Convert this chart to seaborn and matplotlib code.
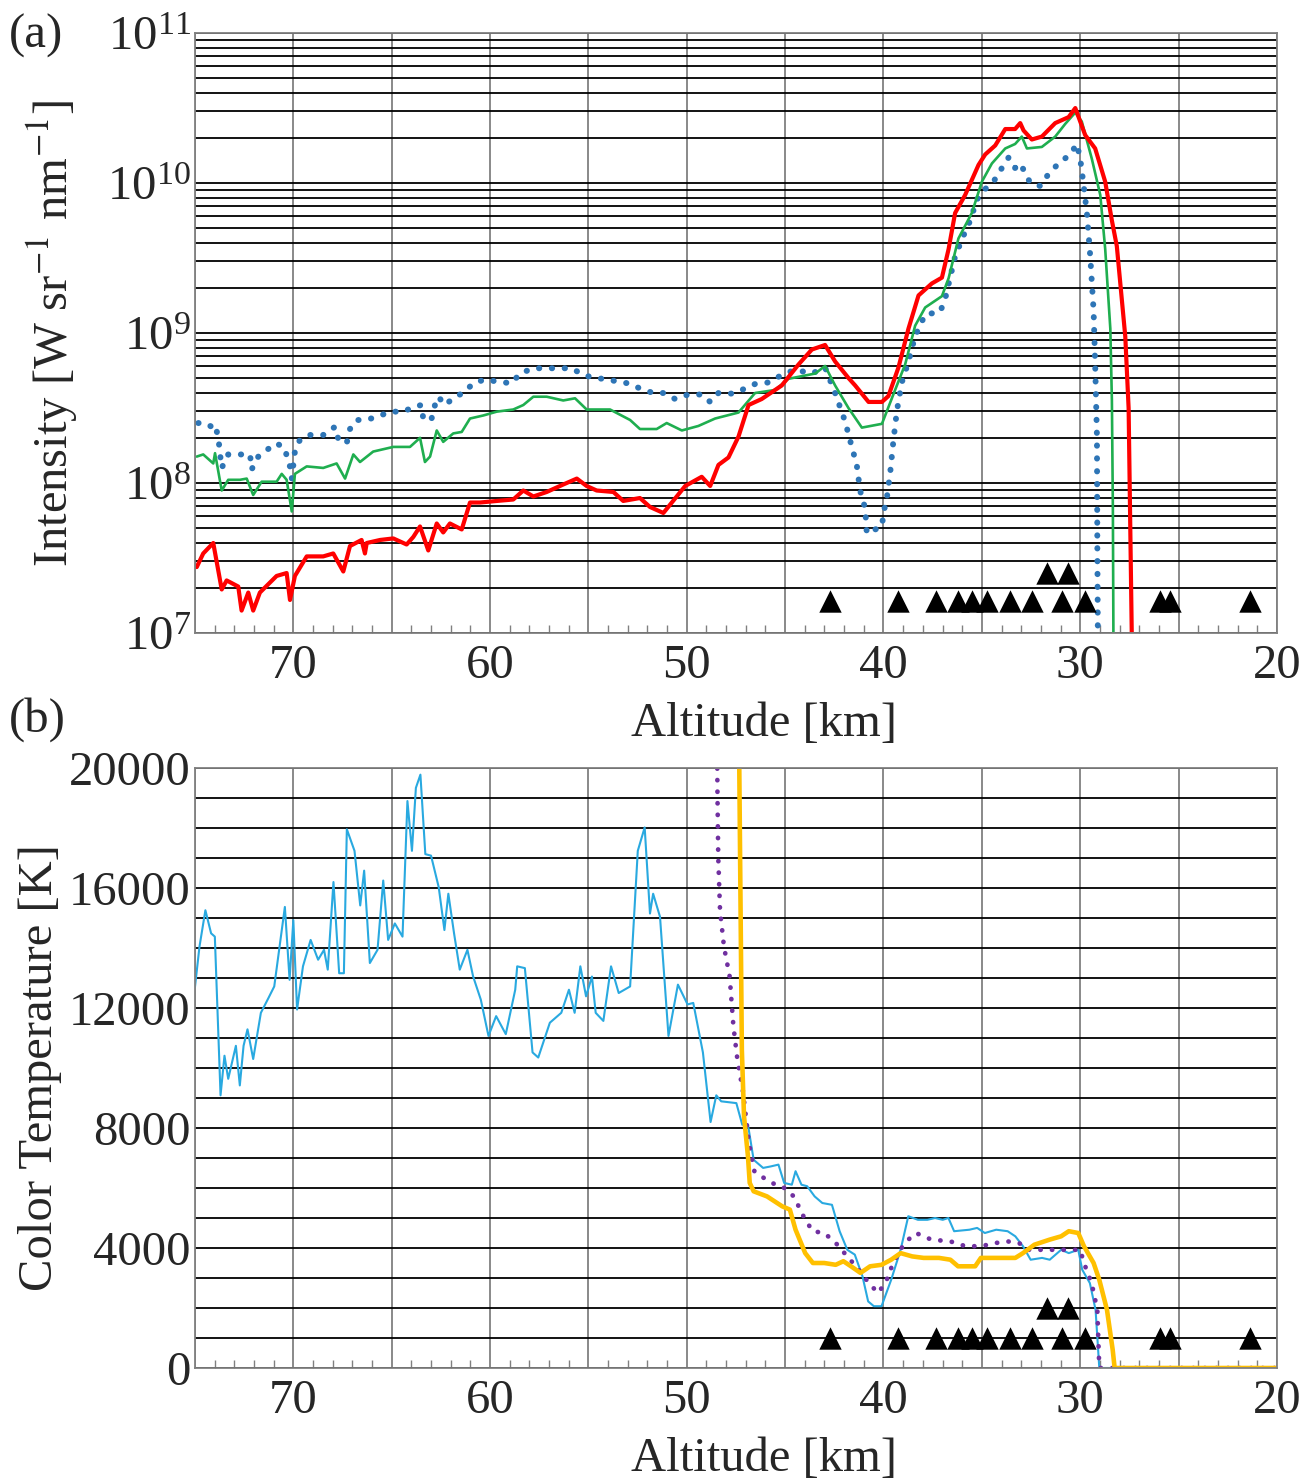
import matplotlib
matplotlib.use('Agg')
import matplotlib.pyplot as plt
from matplotlib.ticker import MultipleLocator, LogLocator, NullFormatter, FuncFormatter
import seaborn as sns

# ---- (a) spectral intensity [W sr-1 nm-1] vs altitude [km] ----
red_alt = [74.91, 74.58, 74.07, 73.64, 73.39, 72.80, 72.63, 72.29, 72.04, 71.70, 70.85, 70.34, 70.17, 69.92,
           69.32, 68.48, 67.97, 67.46, 67.12, 66.53, 66.36, 66.27, 65.59, 64.92, 64.24, 63.90, 63.56, 63.14,
           62.71, 62.38, 62.04, 61.44, 61.02, 60.51, 59.66, 58.82, 58.31, 57.80, 57.12, 56.28, 55.59, 55.09,
           54.58, 53.73, 53.23, 52.38, 51.87, 51.19, 50.08, 49.24, 48.81, 48.39, 47.88, 47.37, 46.86, 46.19,
           45.17, 44.32, 43.64, 42.97, 42.46, 41.78, 41.44, 40.76, 40.08, 39.75, 39.24, 38.73, 38.22, 37.54,
           37.03, 36.69, 36.36, 35.85, 35.17, 34.83, 34.32, 33.81, 33.31, 33.05, 32.88, 32.46, 31.95, 31.27,
           30.59, 30.25, 29.75, 29.24, 28.73, 28.39, 28.14, 27.71, 27.54, 27.37]
red_int = [2.75e7, 3.39e7, 3.98e7, 1.95e7, 2.24e7, 2.04e7, 1.41e7, 1.86e7, 1.41e7, 1.86e7, 2.40e7, 2.51e7, 1.66e7, 2.40e7,
           3.24e7, 3.24e7, 3.39e7, 2.57e7, 3.80e7, 4.17e7, 3.39e7, 3.98e7, 4.17e7, 4.27e7, 3.89e7, 4.37e7, 5.13e7, 3.55e7,
           5.37e7, 4.68e7, 5.37e7, 4.90e7, 7.41e7, 7.41e7, 7.59e7, 7.76e7, 8.91e7, 8.13e7, 8.71e7, 9.77e7, 1.07e8, 9.55e7,
           8.91e7, 8.71e7, 7.59e7, 7.94e7, 6.92e7, 6.31e7, 9.55e7, 1.10e8, 9.55e7, 1.32e8, 1.48e8, 2.04e8, 3.31e8, 3.63e8,
           4.47e8, 6.17e8, 7.76e8, 8.32e8, 6.46e8, 5.01e8, 4.47e8, 3.47e8, 3.47e8, 3.80e8, 5.89e8, 1.07e9, 1.78e9, 2.14e9,
           2.34e9, 3.63e9, 6.31e9, 8.32e9, 1.32e10, 1.55e10, 1.78e10, 2.29e10, 2.29e10, 2.51e10, 2.24e10, 1.95e10, 2.04e10, 2.51e10,
           2.75e10, 3.16e10, 2.09e10, 1.70e10, 1.02e10, 5.62e9, 3.80e9, 9.5e8, 3.16e8, 7.94e6]

green_alt = [74.91, 74.58, 74.07, 73.98, 73.64, 73.31, 72.71, 72.37, 72.04, 71.61, 70.85, 70.59, 70.34, 70.08,
             69.92, 69.32, 68.48, 67.80, 67.37, 66.95, 66.61, 65.94, 64.92, 64.07, 63.56, 63.31, 63.05, 62.71,
             62.38, 61.87, 61.44, 61.02, 60.34, 59.66, 58.82, 58.31, 57.80, 57.12, 56.28, 55.68, 55.09, 53.90,
             52.88, 52.38, 51.53, 51.02, 50.25, 49.41, 48.56, 47.37, 46.53, 45.51, 44.83, 43.47, 42.97, 42.46,
             41.78, 41.10, 40.08, 39.41, 38.90, 38.39, 37.88, 37.03, 36.69, 36.19, 35.51, 35.00, 34.49, 33.81,
             33.31, 32.97, 32.71, 31.95, 31.27, 30.76, 30.25, 29.92, 29.41, 28.98, 28.73, 28.47, 28.39, 28.34, 28.31]
green_int = [1.50e8, 1.55e8, 1.35e8, 1.58e8, 8.91e7, 1.05e8, 1.05e8, 1.07e8, 8.32e7, 1.02e8, 1.02e8, 1.15e8, 1.05e8, 6.46e7,
             1.15e8, 1.29e8, 1.26e8, 1.35e8, 1.07e8, 1.55e8, 1.38e8, 1.62e8, 1.74e8, 1.74e8, 2.00e8, 1.38e8, 1.50e8, 2.24e8,
             1.88e8, 2.14e8, 2.19e8, 2.69e8, 2.82e8, 2.99e8, 3.09e8, 3.31e8, 3.76e8, 3.76e8, 3.55e8, 3.67e8, 3.09e8, 3.09e8,
             2.63e8, 2.29e8, 2.29e8, 2.51e8, 2.24e8, 2.40e8, 2.69e8, 2.95e8, 3.98e8, 4.17e8, 4.95e8, 5.37e8, 6.03e8, 4.47e8,
             3.16e8, 2.34e8, 2.48e8, 4.17e8, 6.17e8, 1.12e9, 1.48e9, 1.76e9, 2.32e9, 4.27e9, 6.31e9, 1.02e10, 1.35e10, 1.70e10,
             1.82e10, 2.04e10, 1.70e10, 1.74e10, 2.04e10, 2.48e10, 2.95e10, 2.57e10, 1.45e10, 8.32e9, 3.63e9, 1.07e9, 3.55e8, 6.76e7, 7.94e6]

blue_alt = [74.83, 74.49, 74.15, 73.98, 73.81, 73.73, 73.64, 73.31, 72.63, 72.20, 72.12, 71.78, 71.35, 70.85,
            70.42, 70.26, 70.17, 70.08, 69.92, 69.66, 69.15, 68.48, 67.88, 67.71, 67.29, 67.12, 66.78, 66.36,
            65.76, 65.09, 64.41, 63.82, 63.48, 63.39, 62.97, 62.80, 62.63, 62.29, 61.78, 61.36, 60.85, 60.26,
            59.58, 58.90, 58.48, 57.80, 57.21, 56.53, 55.85, 55.26, 54.67, 53.90, 53.56, 52.97, 52.29, 51.70,
            51.19, 50.59, 49.92, 49.24, 48.81, 48.39, 47.63, 47.03, 46.53, 45.85, 45.17, 44.49, 43.64, 42.97,
            42.46, 41.95, 41.61, 41.36, 41.19, 40.93, 40.85, 40.42, 40.08, 40.00, 39.83, 39.66, 39.49, 39.32,
            39.07, 38.73, 38.39, 37.88, 37.12, 36.86, 36.36, 35.93, 35.59, 35.25, 34.83, 34.41, 33.98, 33.64,
            33.31, 33.05, 32.80, 32.54, 32.03, 31.61, 31.10, 30.51, 30.17, 30.00, 29.83, 29.66, 29.49, 29.32,
            29.24, 29.15, 29.13, 29.10]
blue_int = [2.51e8, 2.51e8, 2.37e8, 2.45e8, 2.00e8, 1.58e8, 1.26e8, 1.55e8, 1.55e8, 1.55e8, 1.23e8, 1.50e8, 1.66e8, 1.84e8,
            1.70e8, 1.35e8, 1.29e8, 1.07e8, 1.62e8, 1.95e8, 2.09e8, 2.09e8, 2.37e8, 1.95e8, 1.84e8, 2.29e8, 2.63e8, 2.63e8,
            2.75e8, 2.99e8, 2.99e8, 3.24e8, 3.31e8, 2.63e8, 2.69e8, 3.31e8, 3.76e8, 3.31e8, 3.76e8, 3.98e8, 4.62e8, 4.90e8,
            4.73e8, 4.62e8, 5.37e8, 5.82e8, 5.82e8, 5.82e8, 5.82e8, 5.25e8, 5.01e8, 4.90e8, 4.73e8, 4.62e8, 4.22e8, 3.98e8,
            3.98e8, 3.63e8, 3.89e8, 3.89e8, 3.47e8, 3.98e8, 3.94e8, 4.27e8, 4.57e8, 4.68e8, 5.25e8, 5.69e8, 5.37e8, 5.89e8,
            3.98e8, 2.57e8, 1.74e8, 1.32e8, 8.91e7, 6.76e7, 4.62e7, 4.90e7, 5.13e7, 6.31e7, 7.94e7, 1.17e8, 1.95e8, 3.02e8,
            4.68e8, 6.46e8, 9.55e8, 1.33e9, 1.38e9, 1.70e9, 3.24e9, 4.47e9, 5.62e9, 7.76e9, 9.12e9, 1.02e10, 1.26e10, 1.48e10,
            1.26e10, 1.35e10, 1.17e10, 1.00e10, 9.55e9, 1.15e10, 1.35e10, 1.55e10, 1.82e10, 1.45e10, 9.77e9, 6.31e9, 3.24e9, 1.41e9,
            6.17e8, 2.04e8, 3.89e7, 7.94e6]

# ---- (b) color temperature [K] vs altitude [km] ----
cyan_alt = [75.00, 74.77, 74.47, 74.18, 73.99, 73.70, 73.50, 73.31, 72.92, 72.72, 72.53, 72.33, 72.04, 71.65,
            71.26, 70.97, 70.43, 70.19, 70.00, 69.81, 69.51, 69.12, 68.74, 68.44, 68.25, 67.96, 67.67, 67.43,
            67.28, 66.89, 66.60, 66.40, 66.11, 65.72, 65.43, 65.18, 64.84, 64.45, 64.20, 63.97, 63.77, 63.54,
            63.29, 63.00, 62.61, 62.32, 62.12, 61.83, 61.54, 61.15, 60.86, 60.47, 60.08, 59.69, 59.20, 58.72,
            58.62, 58.23, 57.84, 57.55, 56.96, 56.38, 55.99, 55.70, 55.41, 55.12, 54.82, 54.63, 54.24, 53.85,
            53.46, 52.88, 52.49, 52.14, 51.87, 51.71, 51.36, 50.93, 50.45, 49.96, 49.67, 49.18, 48.79, 48.50,
            48.25, 47.48, 47.18, 46.89, 46.60, 46.12, 45.73, 45.34, 45.05, 44.66, 44.47, 44.17, 43.88, 43.50,
            43.11, 42.62, 42.23, 41.84, 41.46, 41.07, 40.78, 40.49, 40.10, 39.61, 39.13, 38.74, 38.25, 37.77,
            37.38, 36.99, 36.70, 36.41, 35.63, 35.24, 34.85, 34.27, 33.69, 33.30, 32.91, 32.52, 31.94, 31.55,
            30.97, 30.58, 30.10, 29.90, 29.51, 29.22, 29.03, 20.00]
cyan_temp = [12700, 14050, 15260, 14490, 14380, 9090, 10410, 9640, 10740, 9420, 10740, 11290, 10300, 11840,
             12340, 12720, 15370, 12940, 14930, 11950, 13390, 14270, 13610, 13940, 13280, 16200, 13160, 13160,
             17960, 17240, 15420, 16580, 13500, 13940, 16250, 14270, 14820, 14380, 18900, 17240, 19340, 19780,
             17130, 17080, 16030, 14600, 15810, 14490, 13280, 13940, 13050, 12280, 11070, 11730, 11130, 12610,
             13390, 13330, 10520, 10350, 11510, 11840, 12610, 11840, 13390, 12390, 13050, 11840, 11570, 13390,
             12500, 12720, 17240, 18020, 15150, 15810, 15040, 11070, 12780, 12120, 12170, 10520, 8200, 9090,
             8890, 8830, 8110, 8110, 6940, 6670, 6720, 6780, 6170, 6110, 6560, 6110, 6060, 5720,
             5500, 5440, 4560, 3940, 3780, 3060, 2220, 2060, 2060, 2940, 3940, 5060, 4940, 4940,
             5000, 4940, 5000, 4560, 4610, 4670, 4500, 4610, 4560, 4390, 4060, 3610, 3670, 3610,
             3940, 3830, 3940, 3280, 2830, 1940, 0, 0]

orange_alt = [47.40, 47.20, 47.09, 46.89, 46.80, 46.60, 45.92, 45.15, 44.76, 44.47, 43.98, 43.59, 43.01, 42.43,
              42.04, 41.65, 41.17, 40.68, 40.10, 39.61, 39.13, 38.54, 37.96, 37.18, 36.60, 36.21, 35.34, 35.05,
              34.27, 33.30, 32.91, 32.33, 31.55, 30.97, 30.58, 30.10, 29.81, 29.32, 29.03, 28.64, 28.35, 28.25, 20.00]
orange_temp = [25000, 10600, 8390, 7060, 6170, 5890, 5720, 5390, 5280, 4610, 3830, 3500, 3500, 3440,
               3560, 3390, 3170, 3390, 3440, 3610, 3830, 3720, 3670, 3670, 3610, 3390, 3390, 3670,
               3670, 3670, 3830, 4110, 4280, 4390, 4560, 4500, 4060, 3500, 2940, 1940, 610, 0, 0]

purple_alt = [48.50, 48.44, 48.40, 48.31, 48.11, 47.82, 47.63, 47.43, 47.14, 46.85, 46.56, 46.07, 45.49, 45.15,
              44.56, 43.98, 43.59, 43.01, 42.43, 41.84, 41.26, 40.87, 40.29, 39.90, 39.51, 38.93, 38.35, 37.57,
              36.60, 35.83, 35.05, 34.27, 33.69, 33.11, 32.72, 31.75, 30.78, 30.00, 29.81, 29.42, 29.13, 29.03, 20.00]
purple_temp = [25000, 19120, 17020, 15260, 14050, 13050, 11400, 10300, 9200, 7540, 6550, 6330, 6110, 6060,
               5720, 4940, 4560, 4500, 4170, 3720, 3280, 2940, 2500, 2830, 3500, 4170, 4500, 4280,
               4220, 4060, 4060, 4170, 4220, 4170, 3940, 3940, 3940, 3940, 3500, 2830, 1940, 0, 0]

# ---- observation markers (triangles) ----
tri_low_alt = [42.7, 39.26, 37.33, 36.2, 35.5, 34.74, 33.57, 32.45, 30.92, 29.75, 25.94, 25.43, 21.37]
tri_high_alt = [31.7, 30.62]
tri_low_a, tri_high_a = 1.63e7, 2.5e7
tri_low_b, tri_high_b = 1000, 2000

sns.set_style('white')
plt.rcParams['font.family'] = ['Liberation Serif', 'DejaVu Serif']
plt.rcParams['mathtext.fontset'] = 'stix'

FS = 35
GRAY = '#808080'

fig = plt.figure(figsize=(13.05, 14.81), dpi=100)
ax1 = fig.add_axes([0.1494, 0.5726, 0.8291, 0.4051])
ax2 = fig.add_axes([0.1494, 0.0763, 0.8291, 0.4051])

# panel (a)
sns.lineplot(x=blue_alt, y=blue_int, ax=ax1, color='#2e75b6', lw=4.3, sort=False, estimator=None,
             linestyle=(0, (0.05, 2.1)), dash_capstyle='round')
sns.lineplot(x=green_alt, y=green_int, ax=ax1, color='#1fae4f', lw=1.9, sort=False, estimator=None)
sns.lineplot(x=red_alt, y=red_int, ax=ax1, color='#ff0000', lw=3.0, sort=False, estimator=None)
sns.scatterplot(x=tri_low_alt, y=[tri_low_a] * len(tri_low_alt), ax=ax1, marker='^', s=260,
                color='black', linewidth=0, zorder=5)
sns.scatterplot(x=tri_high_alt, y=[tri_high_a] * len(tri_high_alt), ax=ax1, marker='^', s=260,
                color='black', linewidth=0, zorder=5)
ax1.set_yscale('log')
ax1.set_ylim(1e7, 1e11)
ax1.yaxis.set_major_locator(LogLocator(base=10, numticks=10))
ax1.yaxis.set_minor_locator(LogLocator(base=10, subs=range(2, 10), numticks=20))
ax1.yaxis.set_minor_formatter(NullFormatter())
ax1.set_ylabel('Intensity [W sr$^{-1}$ nm$^{-1}$]', fontsize=FS)
ax1.yaxis.set_label_coords(-0.106, 0.5)

# panel (b)
sns.lineplot(x=cyan_alt, y=cyan_temp, ax=ax2, color='#29a9e0', lw=1.5, sort=False, estimator=None)
sns.lineplot(x=purple_alt, y=purple_temp, ax=ax2, color='#7030a0', lw=3.4, sort=False, estimator=None,
             linestyle=(0, (0.05, 2.4)), dash_capstyle='round')
sns.lineplot(x=orange_alt, y=orange_temp, ax=ax2, color='#ffc000', lw=3.3, sort=False, estimator=None)
sns.scatterplot(x=tri_low_alt, y=[tri_low_b] * len(tri_low_alt), ax=ax2, marker='^', s=260,
                color='black', linewidth=0, zorder=5)
sns.scatterplot(x=tri_high_alt, y=[tri_high_b] * len(tri_high_alt), ax=ax2, marker='^', s=260,
                color='black', linewidth=0, zorder=5)
ax2.set_ylim(0, 20000)
ax2.yaxis.set_major_locator(MultipleLocator(4000))
ax2.yaxis.set_minor_locator(MultipleLocator(1000))
ax2.set_ylabel('Color Temperature [K]', fontsize=FS)
ax2.yaxis.set_label_coords(-0.123, 0.5)

for ax in (ax1, ax2):
    ax.set_xlim(75, 20)
    ax.xaxis.set_major_locator(MultipleLocator(5))
    ax.xaxis.set_minor_locator(MultipleLocator(1))
    ax.xaxis.set_major_formatter(FuncFormatter(lambda v, p: f'{v:.0f}' if round(v) % 10 == 0 else ''))
    ax.set_axisbelow(True)
    ax.xaxis.grid(True, which='major', color=GRAY, lw=1.3)
    ax.yaxis.grid(True, which='both', color='black', lw=1.3)
    ax.tick_params(axis='x', which='major', length=0, pad=8, labelsize=FS)
    ax.tick_params(axis='x', which='minor', bottom=True, direction='in', length=6, width=1, color=GRAY)
    ax.tick_params(axis='y', which='both', length=0, pad=3, labelsize=FS)
    for sp in ax.spines.values():
        sp.set_color(GRAY)
        sp.set_linewidth(1.3)
    ax.set_xlabel('Altitude [km]', fontsize=FS)
    ax.xaxis.set_label_coords(0.526, -0.115)

fig.text(0.007, 0.991, '(a)', fontsize=FS, va='top', ha='left')
fig.text(0.007, 0.529, '(b)', fontsize=FS, va='top', ha='left')

fig.savefig('out.png', dpi=100)
